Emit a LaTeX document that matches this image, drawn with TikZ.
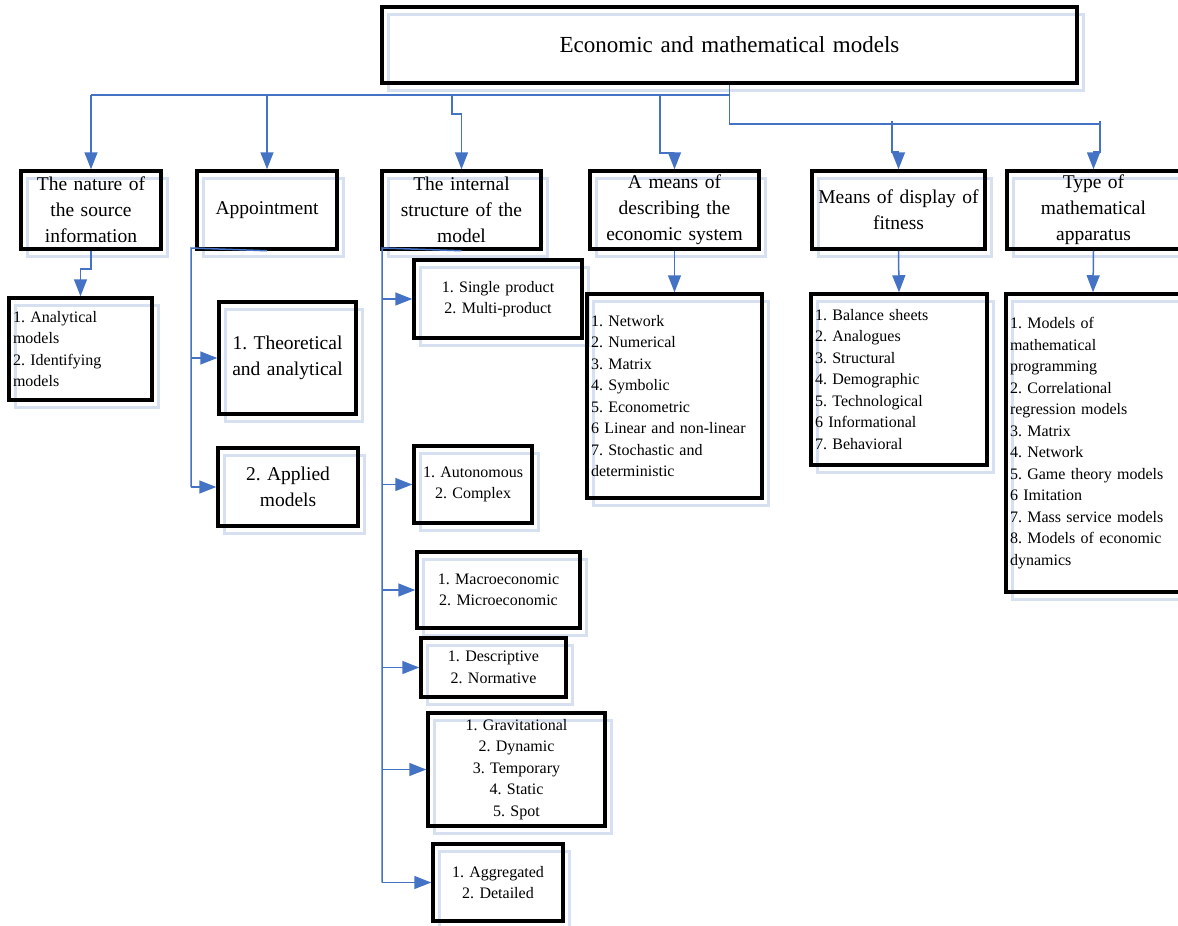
\documentclass[tikz,border=0pt]{standalone}
\usepackage{fontspec}
\setmainfont{Liberation Serif}
\usetikzlibrary{arrows.meta,backgrounds}
\definecolor{connc}{RGB}{68,114,196}
\definecolor{shadc}{RGB}{214,224,240}
\tikzset{
  bx/.style={draw=black, line width=3.5pt, inner xsep=4pt, inner ysep=0pt},
  ttl/.style={bx, align=center, font=\fontsize{23}{28}\selectfont},
  hdr/.style={bx, align=center, font=\fontsize{19.5}{26}\selectfont},
  lst/.style={bx, align=left, font=\fontsize{16}{21.5}\selectfont},
  lstc/.style={bx, align=center, font=\fontsize{16}{21.5}\selectfont},
  shadowbox/.style={draw=shadc, line width=3pt},
  line/.style={draw=connc, line width=1.5pt},
  arr/.style={line, -{Triangle[length=17pt,width=13pt]}},
}
\newcommand\mybox[7]{%
  \pgfmathsetmacro\bxw{#5-#3}\pgfmathsetmacro\bxh{#6-#4}%
  \pgfmathsetmacro\bxtw{#5-#3-8}%
  \pgfmathsetmacro\bxcx{(#3+#5)/2}\pgfmathsetmacro\bxcy{(#4+#6)/2}%
  \node[#2, minimum width=\bxw pt, minimum height=\bxh pt, text width=\bxtw pt] (#1) at (\bxcx,\bxcy) {#7};
  \begin{pgfonlayer}{background}
    \draw[shadowbox] ({#3+6},{#4+7}) rectangle ({#5+6},{#6+7});
  \end{pgfonlayer}%
}
\begin{document}
\frenchspacing
\begin{tikzpicture}[x=1pt,y=-1pt]
\useasboundingbox (0,0) rectangle (1178,926);
% boxes
\mybox{title}{ttl}{382}{7}{1077}{83}{Economic and mathematical models}
\mybox{h1}{hdr}{21}{171}{161}{249}{The nature of\\the source\\information}
\mybox{h2}{hdr}{197}{171}{337}{249}{Appointment}
\mybox{h3}{hdr}{382}{171}{541}{249}{The internal\\structure of the\\model}
\mybox{h4}{hdr}{590}{171}{759}{249}{A means of\\describing the\\economic system}
\mybox{h5}{hdr}{812}{171}{985}{249}{Means of display of\\fitness}
\mybox{h6}{hdr}{1007}{171}{1180}{249}{Type of\\mathematical\\apparatus}
\mybox{l1}{lst}{9}{298}{152}{400}{1. Analytical\\models\\2. Identifying\\models}
\mybox{t1}{hdr}{219}{302}{356}{414}{1. Theoretical\\and analytical}
\mybox{a2}{hdr}{218}{448}{358}{526}{2. Applied\\models}
\mybox{s1}{lstc}{414}{260}{582}{338}{1. Single product\\2. Multi-product}
\mybox{s2}{lstc}{414}{446}{532}{523}{1. Autonomous\\2. Complex}
\mybox{s3}{lstc}{417}{552}{580}{628}{1. Macroeconomic\\2. Microeconomic}
\mybox{s4}{lstc}{421}{638}{566}{697}{1. Descriptive\\2. Normative}
\mybox{s5}{lstc}{428}{713}{605}{826}{1. Gravitational\\2. Dynamic\\3. Temporary\\4. Static\\5. Spot}
\mybox{s6}{lstc}{433}{844}{563}{921}{1. Aggregated\\2. Detailed}
\mybox{l4}{lst}{587}{294}{762}{498}{1. Network\\2. Numerical\\3. Matrix\\4. Symbolic\\5. Econometric\\6 Linear and non-linear\\7. Stochastic and\\deterministic}
\mybox{l5}{lst}{811}{294}{987}{465}{1. Balance sheets\\2. Analogues\\3. Structural\\4. Demographic\\5. Technological\\6 Informational\\7. Behavioral}
\mybox{l6}{lst}{1006}{294}{1180}{592}{1. Models of\\mathematical\\programming\\2. Correlational\\regression models\\3. Matrix\\4. Network\\5. Game theory models\\6 Imitation\\7. Mass service models\\8. Models of economic\\dynamics}
% connectors, top level
\coordinate (bus) at (0,95);
\coordinate (bus2) at (0,124);
\draw[line] (title.south) -- (title.south |- bus) -- (bus -| h1.north);
\draw[arr] (bus -| h1.north) -- (h1.north);
\draw[arr] (bus -| h2.north) -- (h2.north);
\coordinate (k3) at (452,95);
\draw[arr] (k3) -- ++(0,19) -| (h3.north);
\coordinate (k4) at (660,95);
\draw[arr] (k4) -- ++(0,58) -| (h4.north);
\coordinate (e2) at (1100,124);
\draw[line] (title.south |- bus) -- (title.south |- bus2) -- (e2);
\coordinate (k5) at (892,121);
\draw[arr] (k5) -- ++(0,31) -| (h5.north);
\coordinate (k6) at (1100,121);
\draw[arr] (k6) -- ++(0,31) -| (h6.north);
% second level
\draw[arr] (h1.south) -- ++(0,18) -| (l1.north);
\coordinate (sp2) at (191,248);
\draw[line] (h2.south) -- (sp2) -- (sp2 |- a2.west);
\draw[arr] (sp2 |- t1.west) -- (t1.west);
\draw[arr] (sp2 |- a2.west) -- (a2.west);
\coordinate (sp3) at (382,248);
\draw[line] (h3.south) -- (sp3) -- (sp3 |- s6.west);
\foreach \n in {s1,s2,s3,s4,s5,s6} {\draw[arr] (sp3 |- \n.west) -- (\n.west);}
\draw[arr] (h4.south) -- (l4.north);
\draw[arr] (h5.south) -- (l5.north);
\draw[arr] (h6.south) -- (l6.north);
\end{tikzpicture}
\end{document}
